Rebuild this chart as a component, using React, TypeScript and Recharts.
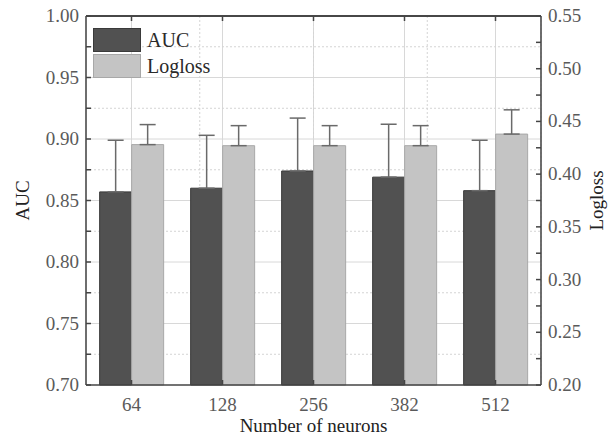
import { Bar, CartesianGrid, ComposedChart, ErrorBar, Legend, ReferenceLine, XAxis, YAxis } from "recharts";

const neurons = ["64", "128", "256", "382", "512"];
const auc = [0.857, 0.86, 0.874, 0.869, 0.858];
const aucErr = [0.042, 0.043, 0.043, 0.043, 0.041];
const logloss = [0.428, 0.427, 0.427, 0.427, 0.438];
const loglossErr = [0.019, 0.019, 0.019, 0.019, 0.023];

const aucTicks = [0.7, 0.725, 0.75, 0.775, 0.8, 0.825, 0.85, 0.875, 0.9, 0.925, 0.95, 0.975, 1.0];
const loglossTicks = [0.2, 0.225, 0.25, 0.275, 0.3, 0.325, 0.35, 0.375, 0.4, 0.425, 0.45, 0.475, 0.5, 0.525, 0.55];
const aucMajor = [0.75, 0.8, 0.85, 0.9, 0.95];
const aucMinor = [0.725, 0.775, 0.825, 0.875, 0.925, 0.975];
const boundaries = [1, 2, 3, 4];

const data = neurons.map((n, i) => ({
  n,
  auc: auc[i],
  aucErr: [0, aucErr[i]],
  logloss: logloss[i],
  loglossErr: [0, loglossErr[i]],
}));

const font = "Liberation Serif";
const axisColor = "#444";
const dark = "#515151";
const light = "#c4c4c4";

// labels only on every 0.05
const major = (v: number) => (Math.round(v * 1000) % 50 === 0 ? v.toFixed(2) : "");

const makeTick = (anchor: "start" | "end" | "middle", dy: number, fmt: (v: any) => string) => (p: any) => (
  <text x={p.x} y={p.y} dy={dy} textAnchor={anchor} fill="#5a5a5a" fontSize={19} fontFamily={font}>
    {fmt(p.payload.value)}
  </text>
);

function LegendBox() {
  const items = [
    { name: "AUC", color: dark, border: "#3a3a3a" },
    { name: "Logloss", color: light, border: "#a8a8a8" },
  ];
  return (
    <div style={{ fontFamily: font, fontSize: 20, color: "#2a2a2a" }}>
      {items.map((it) => (
        <div key={it.name} style={{ display: "flex", alignItems: "center", height: 26 }}>
          <span
            style={{
              display: "inline-block",
              width: 46,
              height: 22,
              background: it.color,
              border: `1px solid ${it.border}`,
              marginRight: 6,
            }}
          />
          {it.name}
        </div>
      ))}
    </div>
  );
}

export default function App() {
  return (
    <div style={{ position: "absolute", left: 0, top: 0, background: "#fff", fontFamily: font }}>
      <ComposedChart
        width={608}
        height={439}
        data={data}
        margin={{ top: 15, right: 0, bottom: 0, left: 0 }}
        barCategoryGap="15%"
        barGap={0}
      >
        <CartesianGrid yAxisId="left" horizontalValues={aucMajor} stroke="#d8d8d8" strokeWidth={1} />
        <CartesianGrid
          yAxisId="left"
          xAxisId="minor"
          horizontalValues={aucMinor}
          verticalValues={boundaries}
          stroke="#d4d4d4"
          strokeDasharray="2 2"
        />
        <CartesianGrid yAxisId="left" horizontalValues={[1.0]} vertical={false} stroke={axisColor} strokeWidth={1.5} />
        <XAxis
          dataKey="n"
          height={54}
          tick={makeTick("middle", 19, String)}
          tickSize={-5}
          tickMargin={12}
          axisLine={{ stroke: axisColor, strokeWidth: 1.5 }}
          tickLine={{ stroke: axisColor, strokeWidth: 1.5 }}
          label={{
            value: "Number of neurons",
            position: "center",
            dy: 13,
            fill: "#222",
            fontSize: 19,
            fontFamily: font,
          }}
        />
        <XAxis xAxisId="minor" type="number" domain={[0, 5]} hide />
        <XAxis
          xAxisId="top"
          dataKey="n"
          orientation="top"
          height={1}
          tickSize={-5}
          tick={() => <g />}
          axisLine={{ stroke: axisColor, strokeWidth: 1.5 }}
          tickLine={{ stroke: axisColor, strokeWidth: 1.5 }}
        />
        <YAxis
          yAxisId="left"
          width={86}
          domain={[0.7, 1.0]}
          ticks={aucTicks}
          interval={0}
          tick={makeTick("end", 6, major)}
          tickSize={-5}
          tickMargin={12}
          axisLine={{ stroke: axisColor, strokeWidth: 1.5 }}
          tickLine={{ stroke: axisColor, strokeWidth: 1.5 }}
          label={{
            value: "AUC",
            angle: -90,
            position: "center",
            dx: -21,
            fill: "#222",
            fontSize: 19,
            fontFamily: font,
          }}
        />
        <YAxis
          yAxisId="right"
          orientation="right"
          width={67}
          domain={[0.2, 0.55]}
          ticks={loglossTicks}
          interval={0}
          tick={makeTick("start", 6, major)}
          tickSize={-5}
          tickMargin={12}
          axisLine={{ stroke: axisColor, strokeWidth: 1.5 }}
          tickLine={{ stroke: axisColor, strokeWidth: 1.5 }}
          label={{
            value: "Logloss",
            angle: -90,
            position: "center",
            dx: 22,
            fill: "#222",
            fontSize: 19,
            fontFamily: font,
          }}
        />
        <ReferenceLine yAxisId="left" y={1.0} stroke={axisColor} strokeWidth={1.5} ifOverflow="visible" />
        <Legend
          content={() => <LegendBox />}
          layout="vertical"
          align="center"
          verticalAlign="middle"
          wrapperStyle={{ left: 93, top: 27, width: "auto", height: "auto" }}
        />
        <Bar yAxisId="left" dataKey="auc" name="AUC" fill={dark} stroke="#3a3a3a" strokeWidth={1} isAnimationActive={false}>
          <ErrorBar dataKey="aucErr" direction="y" width={8} stroke="#6a6a6a" strokeWidth={1.5} />
        </Bar>
        <Bar yAxisId="right" dataKey="logloss" name="Logloss" fill={light} stroke="#a8a8a8" strokeWidth={1} isAnimationActive={false}>
          <ErrorBar dataKey="loglossErr" direction="y" width={8} stroke="#6a6a6a" strokeWidth={1.5} />
        </Bar>
      </ComposedChart>
    </div>
  );
}
